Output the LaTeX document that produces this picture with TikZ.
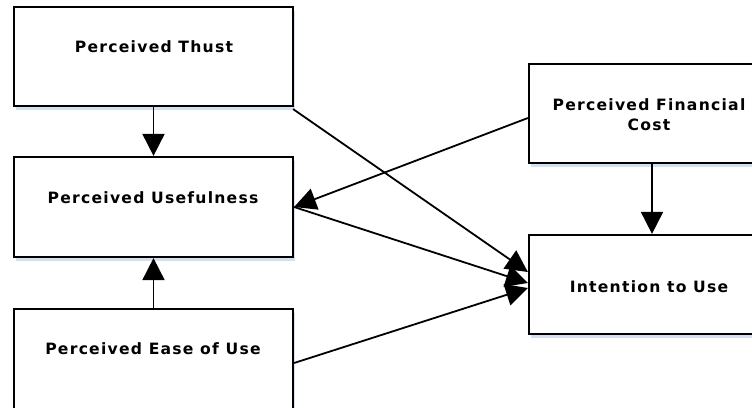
\documentclass[tikz,border=0pt]{standalone}
\usepackage{fontspec}
\newfontfamily\boxfont[LetterSpace=8]{DejaVu Sans}
\usetikzlibrary{arrows.meta,shadows}
\tikzset{
  x=1pt, y=-1pt,
  box/.style={draw=black, line width=2.2pt, fill=white, rectangle, inner sep=0pt,
    drop shadow={shadow xshift=2pt, shadow yshift=-3.5pt, fill={rgb,255:red,200;green,216;blue,238}, opacity=0.8}},
  boxtext/.style={font=\boxfont\bfseries\fontsize{15.6}{20}\selectfont, align=center, inner sep=0pt},
  link/.style={line width=1.8pt, -{Triangle[length=22pt, width=22pt]}}
}
\begin{document}
\begin{tikzpicture}
  \useasboundingbox (0,0) rectangle (752,407);
  \clip (0,0) rectangle (752,407);
  % construct boxes
  \node[box, minimum width=279pt, minimum height=99pt]  (thust)  at (153.5,56.5)  {};
  \node[box, minimum width=279pt, minimum height=100pt] (useful) at (153.5,207)   {};
  \node[box, minimum width=279pt, minimum height=103pt] (ease)   at (153.5,360.5) {};
  \node[box, minimum width=240pt, minimum height=99pt]  (cost)   at (649,113.5)   {};
  \node[box, minimum width=240pt, minimum height=99pt]  (intent) at (649,284.5)   {};
  % labels
  \node[boxtext] (thustlbl)  at (154,47)  {Perceived Thust};
  \node[boxtext] (usefullbl) at (153,198) {Perceived Usefulness};
  \node[boxtext] (easelbl)   at (153,349) {Perceived Ease of Use};
  \node[boxtext] (costlbl)   at (649,115) {Perceived Financial\\Cost};
  \node[boxtext] (intentlbl) at (649,287) {Intention to Use};
  % paths between constructs
  \draw[link] (thust.south) -- (useful.north);
  \draw[link] (ease.north) -- (useful.south);
  \draw[link] ([xshift=-1pt,yshift=-2pt]thust.south east) -- ([yshift=12.5pt]intent.west);
  \draw[link] ([yshift=-4.5pt]cost.west) -- (useful.east);
  \draw[link] (useful.east) -- ([yshift=1.5pt]intent.west);
  \draw[link] ([yshift=-2.5pt]ease.east) -- ([yshift=-3.5pt]intent.west);
  \draw[link] ([xshift=3pt]cost.south) -- ([xshift=3pt]intent.north);
\end{tikzpicture}
\end{document}
